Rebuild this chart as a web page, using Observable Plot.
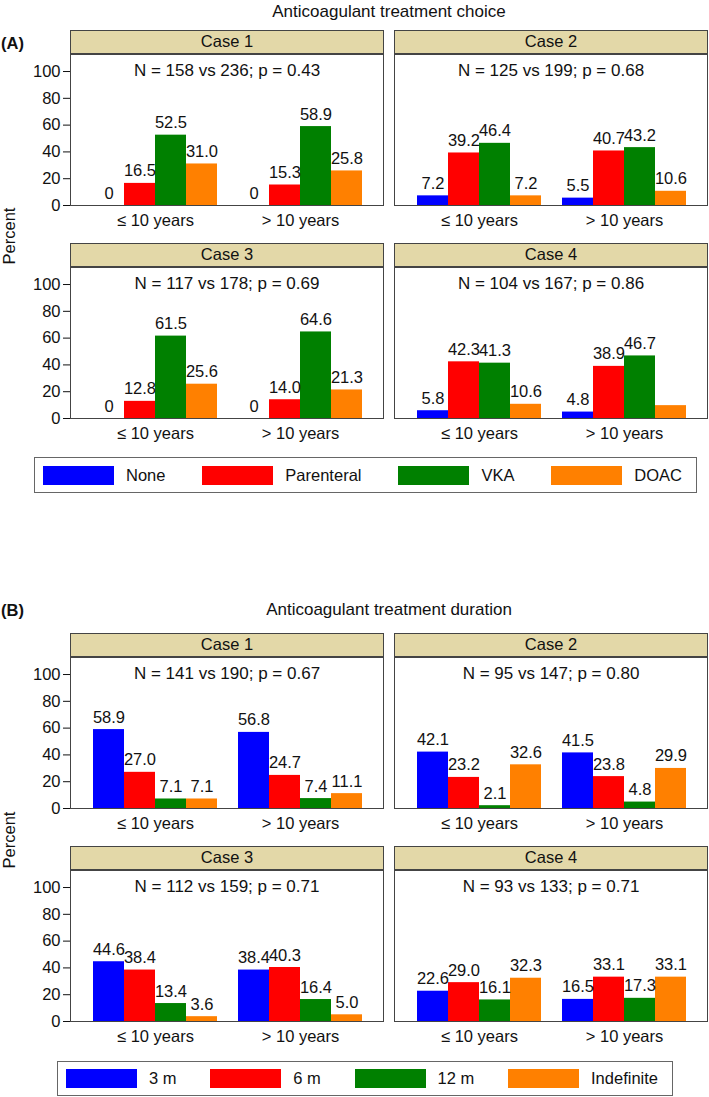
<!DOCTYPE html>
<html><head><meta charset="utf-8">
<script src="https://cdn.jsdelivr.net/npm/d3@7"></script>
<script src="https://cdn.jsdelivr.net/npm/@observablehq/plot@0.6"></script>
<style>
body{margin:0;background:#fff;}
#root{position:relative;width:709px;height:1097px;font-family:"Liberation Sans",Arial,Helvetica,sans-serif;color:#111;overflow:hidden}
.txt{position:absolute;font-size:16.5px;line-height:20px;white-space:nowrap}
.strip{position:absolute;box-sizing:border-box;background:#E3D8A8;border:1.5px solid #444;text-align:center;font-size:16.5px;line-height:21px}
.frame{position:absolute;box-sizing:border-box;border:1.5px solid #444;pointer-events:none}
.ntext{position:absolute;text-align:center;font-size:17px;line-height:20px;white-space:nowrap}
.legend{position:absolute;box-sizing:border-box;border:1.5px solid #666;display:flex;align-items:center;justify-content:space-between;padding:0 14px 0 8px;font-size:16.5px}
.item{display:flex;align-items:center}
.sw{width:71px;height:19px;margin-right:12px}
.plotwrap{position:absolute}
.plotwrap svg{overflow:visible}
</style></head><body><div id="root"></div>
<script>
// ---------------- data ----------------
const groups = ["≤ 10 years", "> 10 years"];
const cases = ["Case 1", "Case 2", "Case 3", "Case 4"];
const choiceCategories = ["None", "Parenteral", "VKA", "DOAC"];
const durationCategories = ["3 m", "6 m", "12 m", "Indefinite"];
const categoryColors = ["#0000FF", "#FF0000", "#008000", "#FF8000"];
const yTicks = [0, 20, 40, 60, 80, 100];

const choiceTitle = "Anticoagulant treatment choice";
const durationTitle = "Anticoagulant treatment duration";

const choiceStats = [
  "N = 158 vs 236; p = 0.43",
  "N = 125 vs 199; p = 0.68",
  "N = 117 vs 178; p = 0.69",
  "N = 104 vs 167; p = 0.86"
];
const durationStats = [
  "N = 141 vs 190; p = 0.67",
  "N = 95 vs 147; p = 0.80",
  "N = 112 vs 159; p = 0.71",
  "N = 93 vs 133; p = 0.71"
];

// values per case: [None, Parenteral, VKA, DOAC]
const choiceLE10 = [
  [0, 16.5, 52.5, 31.0],
  [7.2, 39.2, 46.4, 7.2],
  [0, 12.8, 61.5, 25.6],
  [5.8, 42.3, 41.3, 10.6]
];
const choiceGT10 = [
  [0, 15.3, 58.9, 25.8],
  [5.5, 40.7, 43.2, 10.6],
  [0, 14.0, 64.6, 21.3],
  [4.8, 38.9, 46.7, 9.6]
];
// values per case: [3 m, 6 m, 12 m, Indefinite]
const durationLE10 = [
  [58.9, 27.0, 7.1, 7.1],
  [42.1, 23.2, 2.1, 32.6],
  [44.6, 38.4, 13.4, 3.6],
  [22.6, 29.0, 16.1, 32.3]
];
const durationGT10 = [
  [56.8, 24.7, 7.4, 11.1],
  [41.5, 23.8, 4.8, 29.9],
  [38.4, 40.3, 16.4, 5.0],
  [16.5, 33.1, 17.3, 33.1]
];
// bars drawn without a value label in the original
const unlabeledBars = [["choice", "Case 4", "> 10 years", "DOAC"]];

// ---------------- build ----------------
const FONT = '"Liberation Sans", Arial, Helvetica, sans-serif';
const root = document.getElementById("root");
const Y_DOMAIN = [0, 112.7];

function rowsFor(panel, cats, le, gt, ci) {
  const rows = [];
  [le[ci], gt[ci]].forEach((vals, gi) => {
    vals.forEach((v, k) => {
      const hidden = unlabeledBars.some(u => u[0] === panel && u[1] === cases[ci] && u[2] === groups[gi] && u[3] === cats[k]);
      rows.push({
        case: cases[ci], group: groups[gi], category: cats[k], value: v,
        label: hidden ? "" : (v === 0 ? "0" : v.toFixed(1))
      });
    });
  });
  return rows;
}

const PW = 312, PH = 151, SH = 23, MB = 30;
const baseStyle = {fontFamily: FONT, fontSize: "16.5px", color: "#111", background: "transparent", overflow: "visible"};

function casePlot(rows, cats) {
  return Plot.plot({
    width: PW + 2,
    height: PH + MB,
    marginLeft: 0, marginRight: 2, marginTop: 0, marginBottom: MB,
    style: baseStyle,
    facet: {data: rows, x: "group"},
    fx: {domain: groups, paddingInner: 0.145, paddingOuter: 0.148, axis: "bottom", tickSize: 0, tickPadding: 9, label: null},
    x: {domain: cats, padding: 0, axis: null},
    y: {domain: Y_DOMAIN, axis: null},
    color: {domain: cats, range: categoryColors},
    marks: [
      Plot.barY(rows, {x: "category", y: "value", fill: "category"}),
      Plot.text(rows, {x: "category", y: "value", text: "label", lineAnchor: "bottom", dy: -7, fontSize: 16.5, fill: "#111"})
    ]
  });
}

function axisPlot() {
  return Plot.plot({
    width: 75, height: PH + MB,
    marginLeft: 71, marginRight: 4, marginTop: 0, marginBottom: MB,
    style: baseStyle,
    y: {domain: Y_DOMAIN, ticks: yTicks, tickSize: 8, tickPadding: 3, label: null},
    marks: [Plot.ruleY(yTicks, {strokeOpacity: 0})]
  });
}

function add(cls, css, text) {
  const d = document.createElement("div");
  d.className = cls;
  Object.assign(d.style, css);
  if (text != null) d.textContent = text;
  root.appendChild(d);
  return d;
}

function panel(opts) {
  const {key, cats, le, gt, stats, title, letter, titleTop, letterTop, rowTops, legendBox, percentY} = opts;
  add("txt", {left: "71px", width: "636px", textAlign: "center", top: titleTop + "px", fontSize: "17px"}, title);
  add("txt", {left: "1px", top: letterTop + "px", fontWeight: "bold"}, letter);
  add("txt", {left: "9px", top: percentY + "px", transform: "translate(-50%,-50%) rotate(-90deg)"}, "Percent");
  const colX = [71, 395];
  rowTops.forEach(top => {
    const aw = add("plotwrap", {left: "0px", top: (top + SH) + "px"});
    aw.appendChild(axisPlot());
  });
  cases.forEach((c, ci) => {
    const col = ci % 2, row = Math.floor(ci / 2);
    const x = colX[col], top = rowTops[row];
    const rows = rowsFor(key, cats, le, gt, ci);
    const wrap = add("plotwrap", {left: x + "px", top: (top + SH) + "px"});
    wrap.appendChild(casePlot(rows, cats));
    add("strip", {left: (x - 0.75) + "px", top: (top - 0.75) + "px", width: (PW + 1.5) + "px", height: (SH + 1.5) + "px"}, c);
    add("frame", {left: (x - 0.75) + "px", top: (top + SH - 0.75) + "px", width: (PW + 1.5) + "px", height: (PH + 1.5) + "px"});
    add("ntext", {left: x + "px", width: PW + "px", top: (top + SH + 7) + "px"}, stats[ci]);
  });
  const lg = add("legend", {left: legendBox[0] + "px", top: legendBox[1] + "px", width: legendBox[2] + "px", height: legendBox[3] + "px"});
  cats.forEach((cat, k) => {
    const it = document.createElement("div");
    it.className = "item";
    const sw = document.createElement("div");
    sw.className = "sw";
    sw.style.background = categoryColors[k];
    const lb = document.createElement("span");
    lb.textContent = cat;
    it.appendChild(sw); it.appendChild(lb);
    lg.appendChild(it);
  });
}

panel({key: "choice", cats: choiceCategories, le: choiceLE10, gt: choiceGT10, stats: choiceStats,
  title: choiceTitle, letter: "(A)", titleTop: 2, letterTop: 33, rowTops: [31, 244],
  legendBox: [34, 457, 663, 36], percentY: 236});
panel({key: "duration", cats: durationCategories, le: durationLE10, gt: durationGT10, stats: durationStats,
  title: durationTitle, letter: "(B)", titleTop: 600, letterTop: 600, rowTops: [634, 847],
  legendBox: [57, 1061, 616, 35], percentY: 840});
</script></body></html>
